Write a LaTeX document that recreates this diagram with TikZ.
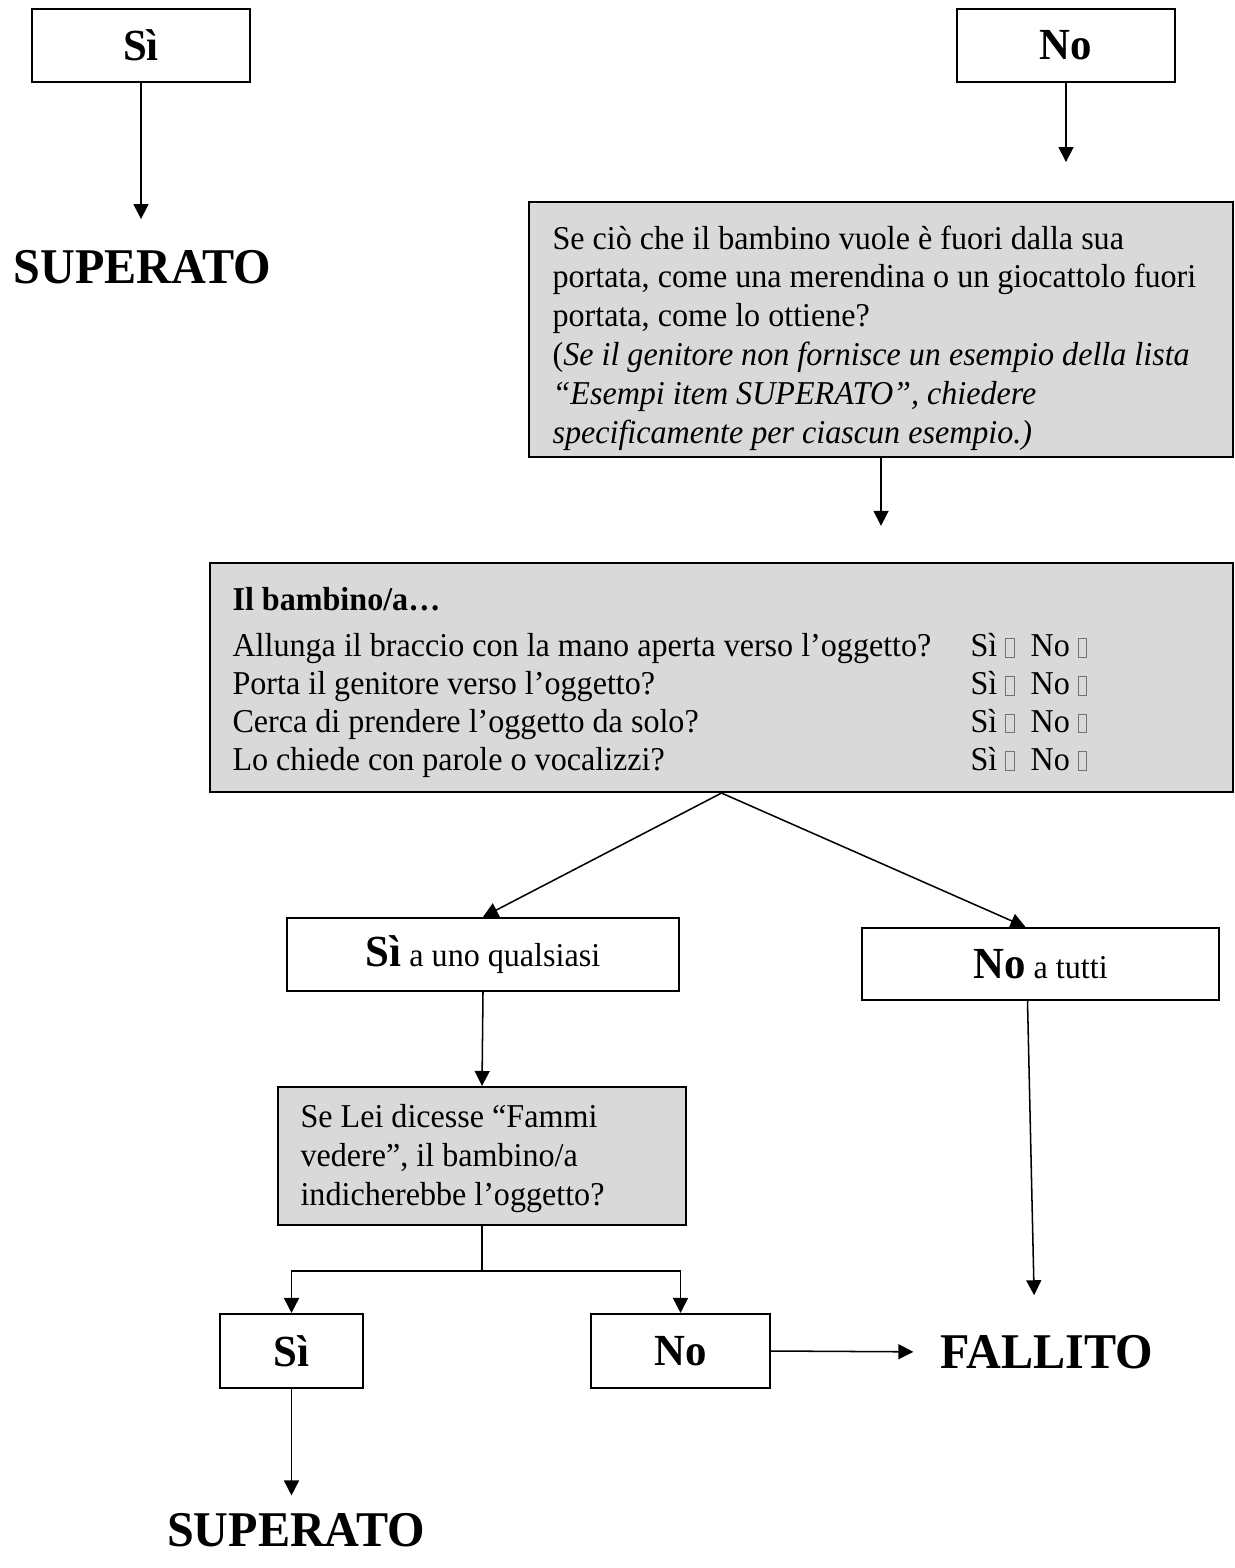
\documentclass[tikz,border=0pt]{standalone}
\usepackage{fontspec}
\setmainfont[FakeStretch=0.963]{Liberation Serif}
\usetikzlibrary{arrows.meta,calc}
\definecolor{boxgray}{RGB}{217,217,217}
% empty answer box after Sì / No
\newcommand{\ckbox}{{\color{black!55}\fboxsep=0pt\fboxrule=0.35pt\fbox{\rule{0pt}{6.4pt}\hspace{2.6pt}}}}

\begin{document}
\begin{tikzpicture}[x=0.36pt,y=-0.36pt,
  box/.style={draw, line width=0.75pt, inner sep=0pt},
  graybox/.style={box, fill=boxgray},
  arr/.style={-{Triangle[length=5.4pt,width=5.4pt]}, line width=0.55pt},
  body/.style={font=\fontsize{12}{13.97}\selectfont, align=left, inner sep=0pt, anchor=north west},
  result/.style={font=\fontsize{18}{21}\selectfont\bfseries, inner sep=0pt},
  answer/.style={font=\fontsize{16}{18}\selectfont\bfseries}
]
\fill[white] (0,0) rectangle (1234,1568);
\useasboundingbox (0,0) rectangle (1234,1568);

% top answers
\node[box, answer, minimum width=218*0.36pt, minimum height=73*0.36pt] (si1) at (141,45.5) {Sì};
\node[box, answer, minimum width=218*0.36pt, minimum height=73*0.36pt] (no1) at (1066,45.5) {No};
\node[result] (sup1) at (142.5,267) {SUPERATO};

% first question
\node[graybox, minimum width=704*0.36pt, minimum height=255*0.36pt] (g1) at (881,329.5) {};
\node[body] (t1) at (552,225) {Se ciò che il bambino vuole è fuori dalla sua\\
portata, come una merendina o un giocattolo fuori\\
portata, come lo ottiene?\\
(\textit{Se il genitore non fornisce un esempio della lista}\\
\textit{“Esempi item SUPERATO”, chiedere}\\
\textit{specificamente per ciascun esempio.)}};

% checklist
\node[graybox, minimum width=1023*0.36pt, minimum height=229*0.36pt] (g2) at (721.5,677.5) {};
\node[body, font=\fontsize{12}{13.97}\selectfont\bfseries] (t2) at (232,587) {Il bambino/a…};
\node[body, font=\fontsize{12}{13.6}\selectfont] (q2) at (232,633) {Allunga il braccio con la mano aperta verso l’oggetto?\\
Porta il genitore verso l’oggetto?\\
Cerca di prendere l’oggetto da solo?\\
Lo chiede con parole o vocalizzi?};
\node[body, font=\fontsize{12}{13.6}\selectfont] (c2) at (970,633) {Sì \ckbox\ \ No \ckbox\\
Sì \ckbox\ \ No \ckbox\\
Sì \ckbox\ \ No \ckbox\\
Sì \ckbox\ \ No \ckbox};

% branch
\node[box, font=\fontsize{12}{14}\selectfont, minimum width=392*0.36pt, minimum height=73*0.36pt] (any) at (483,954.5) {{\fontsize{16}{18}\selectfont\bfseries Sì} a uno qualsiasi};
\node[box, font=\fontsize{12}{14}\selectfont, minimum width=357*0.36pt, minimum height=72*0.36pt] (none) at (1040.5,964) {{\fontsize{16}{18}\selectfont\bfseries No} a tutti};

% follow-up question
\node[graybox, minimum width=408*0.36pt, minimum height=138*0.36pt] (g3) at (482,1156) {};
\node[body] (t3) at (300,1104) {Se Lei dicesse “Fammi\\
vedere”, il bambino/a\\
indicherebbe l’oggetto?};

\node[box, answer, minimum width=143*0.36pt, minimum height=74*0.36pt] (si2) at (291.5,1351) {Sì};
\node[box, answer, minimum width=179*0.36pt, minimum height=74*0.36pt] (no2) at (680.5,1351) {No};
\node[result] (fal) at (1047,1352) {FALLITO};
\node[result] (sup2) at (296,1530) {SUPERATO};

% connectors
\draw[arr, shorten >=11pt] (si1.south) -- (si1.south |- sup1.north);
\draw[arr, shorten >=14pt] (no1.south) -- (no1.south |- g1.north);
\draw[arr, shorten >=13pt] (g1.south) -- (g1.south |- g2.north);
\draw[arr] (g2.south) -- (any.north);
\draw[arr] (g2.south) -- ($(none.north)+(-15,0)$);
\draw[arr] (any.south) -- (g3.north);
\draw[arr] (g3.south) -- ++(0,45) -| (si2.north);
\draw[arr] (g3.south) -- ++(0,45) -| (no2.north);
\draw[arr, shorten >=9.7pt] (no2.east) -- (fal.west);
\draw[arr, shorten >=14.2pt] ($(none.south)+(-13,0)$) -- ($(fal.north)+(-12,0)$);
\draw[arr, shorten >=6.2pt] (si2.south) -- (si2.south |- sup2.north);
\end{tikzpicture}
\end{document}
